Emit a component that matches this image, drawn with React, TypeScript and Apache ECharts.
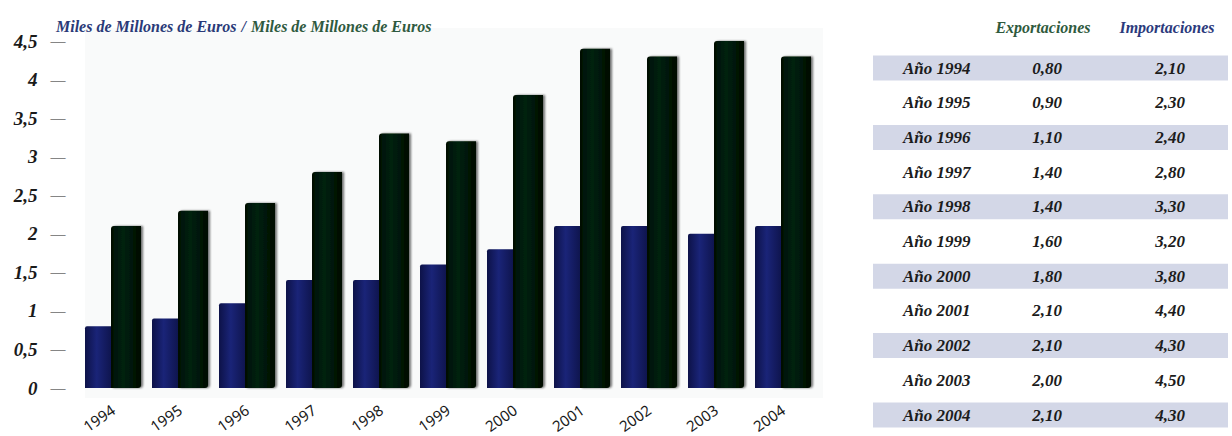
import React, { useEffect, useRef } from "react";
import * as echarts from "echarts";

const years = ["1994", "1995", "1996", "1997", "1998", "1999", "2000", "2001", "2002", "2003", "2004"];
const exportaciones = [0.8, 0.9, 1.1, 1.4, 1.4, 1.6, 1.8, 2.1, 2.1, 2.0, 2.1];
const importaciones = [2.1, 2.3, 2.4, 2.8, 3.3, 3.2, 3.8, 4.4, 4.3, 4.5, 4.3];
const yTicks = [0, 0.5, 1, 1.5, 2, 2.5, 3, 3.5, 4, 4.5];
const titleParts = ["Miles de Millones de Euros", "Miles de Millones de Euros"];
const tableHeaders = ["Exportaciones", "Importaciones"];
const rowPrefix = "Año";

const SERIF = "'Liberation Serif', 'Times New Roman', serif";

const fmt = (v: number) => v.toFixed(2).replace(".", ",");

const serifStyle = (size: number, fill: string, align: string) => ({
  fontStyle: "italic",
  fontWeight: "bold",
  fontSize: size,
  fontFamily: SERIF,
  fill,
  align,
  verticalAlign: "middle",
});

export default function App() {
  const ref = useRef<HTMLDivElement>(null);

  useEffect(() => {
    if (!ref.current) return;
    const chart = echarts.init(ref.current, null, { renderer: "svg" });

    const rowY0 = 68;
    const rowStep = 34.7;
    const graphics: any[] = [
      {
        type: "rect",
        silent: true,
        z: -10,
        shape: { x: 85, y: 28, width: 738, height: 370 },
        style: { fill: "#f9fafa" },
      },
      {
        type: "text",
        x: 1043,
        y: 27,
        style: { text: tableHeaders[0], ...serifStyle(16, "#2f5a3d", "center") },
      },
      {
        type: "text",
        x: 1167,
        y: 27,
        style: { text: tableHeaders[1], ...serifStyle(16, "#2b3a7c", "center") },
      },
    ];
    years.forEach((yr, i) => {
      const y = rowY0 + i * rowStep;
      if (i % 2 === 0) {
        graphics.push({
          type: "rect",
          silent: true,
          z: -5,
          shape: { x: 873, y: y - 12.5, width: 355, height: 25 },
          style: { fill: "#d3d7e7" },
        });
      }
      graphics.push(
        {
          type: "text",
          x: 903,
          y,
          style: { text: `${rowPrefix} ${yr}`, ...serifStyle(17, "#1c1c1c", "left") },
        },
        {
          type: "text",
          x: 1047,
          y,
          style: { text: fmt(exportaciones[i]), ...serifStyle(17, "#1c1c1c", "center") },
        },
        {
          type: "text",
          x: 1170,
          y,
          style: { text: fmt(importaciones[i]), ...serifStyle(17, "#1c1c1c", "center") },
        }
      );
    });

    const richSerif = (size: number, color: string) => ({
      fontStyle: "italic",
      fontWeight: "bold",
      fontSize: size,
      fontFamily: SERIF,
      color,
    });

    chart.setOption({
      animation: false,
      backgroundColor: "#ffffff",
      title: {
        left: 51,
        top: 12,
        text: `{a|${titleParts[0]}} {s|/} {b|${titleParts[1]}}`,
        textStyle: {
          rich: {
            a: richSerif(16, "#2a3a78"),
            s: richSerif(16, "#2a3a78"),
            b: richSerif(16, "#2f5a3f"),
          },
        },
      },
      grid: { left: 79.5, right: 415.5, top: 41, bottom: 48, containLabel: false },
      xAxis: {
        type: "category",
        data: years,
        axisLine: { show: false },
        axisTick: { show: false },
        axisLabel: {
          interval: 0,
          rotate: 35,
          margin: 20,
          fontFamily: "'Noto Sans', sans-serif",
          fontSize: 15,
          color: "#1a1a1a",
        },
      },
      yAxis: {
        type: "value",
        min: 0,
        max: yTicks[yTicks.length - 1],
        interval: 0.5,
        splitLine: { show: false },
        axisLine: { show: false },
        axisTick: { show: false },
        axisLabel: {
          margin: 14,
          formatter: (v: number) => `{v|${String(v).replace(".", ",")}}{d|—}`,
          rich: {
            v: richSerif(19, "#1a1a1a"),
            d: {
              fontStyle: "normal",
              fontWeight: "normal",
              fontSize: 15,
              fontFamily: SERIF,
              color: "#1a1a1a",
              padding: [0, 0, 0, 13],
            },
          },
        },
      },
      series: [
        {
          name: tableHeaders[0],
          type: "bar",
          data: exportaciones,
          barWidth: 26,
          barGap: "0%",
          itemStyle: {
            color: new echarts.graphic.LinearGradient(0, 0, 1, 0, [
              { offset: 0, color: "#0d1248" },
              { offset: 0.45, color: "#1a2478" },
              { offset: 1, color: "#0f154f" },
            ]),
            borderRadius: [2, 0, 0, 0],
          },
        },
        {
          name: tableHeaders[1],
          type: "bar",
          data: importaciones,
          barWidth: 30,
          barGap: "0%",
          itemStyle: {
            color: new echarts.graphic.LinearGradient(0, 0, 1, 0, [
              { offset: 0, color: "#020e05" },
              { offset: 0.4, color: "#06220b" },
              { offset: 1, color: "#010b03" },
            ]),
            borderRadius: [3, 0, 3, 0],
            shadowColor: "rgba(0,0,0,0.55)",
            shadowOffsetX: 2,
            shadowBlur: 2,
          },
        },
      ],
      graphic: { elements: graphics },
    });

    return () => chart.dispose();
  }, []);

  return (
    <div
      ref={ref}
      style={{ position: "absolute", left: 0, top: 0, width: 1232, height: 436 }}
    />
  );
}
